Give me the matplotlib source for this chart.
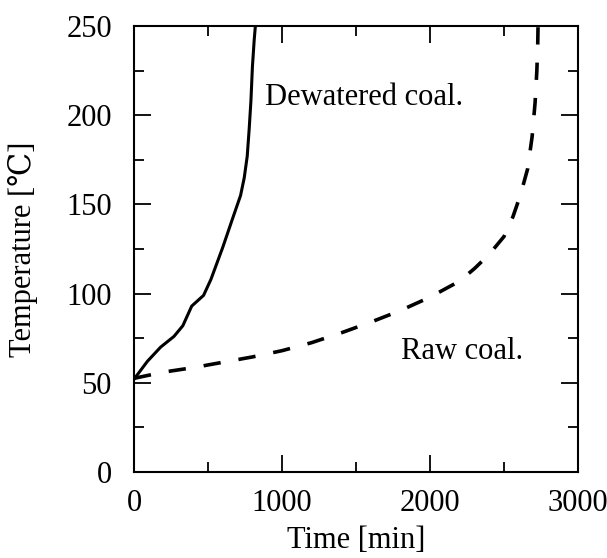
import numpy as np
import matplotlib.pyplot as plt
from matplotlib.ticker import MultipleLocator

plt.rcParams['font.family'] = ['Liberation Serif', 'DejaVu Serif']

# dewatered coal (solid)
t_dew = [0, 90, 180, 270, 330, 390, 470, 520, 600, 670, 720, 745, 765, 778, 790, 800, 812, 820]
T_dew = [52, 62, 70, 76, 82, 93, 99, 108, 126, 143, 155, 165, 177, 192, 208, 227, 242, 250]

# raw coal (dashed)
t_raw = [0, 200, 400, 600, 800, 1000, 1200, 1400, 1600, 1800, 2000, 2200,
         2300, 2400, 2500, 2560, 2610, 2660, 2690, 2710, 2722, 2728, 2730]
T_raw = [52.5, 56, 58.5, 61.5, 64.5, 68, 72.5, 78, 84, 90.5, 98, 107,
         114, 122, 132, 143, 155, 170, 188, 207, 225, 240, 250]

fig = plt.figure(figsize=(6.07, 5.58), dpi=100)
ax = fig.add_axes([134/607, (558-472)/558, 444/607, 446/558])

ax.plot(t_dew, T_dew, color='black', lw=2.2)
ax.plot(t_raw, T_raw, color='black', lw=2.6, dashes=(4.8, 5))

ax.set_xlim(0, 3000)
ax.set_ylim(0, 250)
ax.xaxis.set_major_locator(MultipleLocator(1000))
ax.xaxis.set_minor_locator(MultipleLocator(500))
ax.yaxis.set_major_locator(MultipleLocator(50))
ax.yaxis.set_minor_locator(MultipleLocator(25))
ax.tick_params(which='both', direction='in', top=True, right=True, labelsize=22, width=1.3)
ax.tick_params(which='major', length=12)
ax.tick_params(which='minor', length=7)
ax.tick_params(axis='x', pad=12)
ax.tick_params(axis='y', pad=16)
for s in ax.spines.values():
    s.set_linewidth(1.5)

ax.text(885, 210, 'Dewatered coal.', fontsize=22, va='center')
ax.text(1804, 67.4, 'Raw coal.', fontsize=22, va='center')

ax.set_xlabel('Time [min]', fontsize=22, labelpad=6)
ax.set_ylabel('Temperature [\u2103]', fontsize=22, labelpad=20)

fig.savefig('out.png', dpi=100)
